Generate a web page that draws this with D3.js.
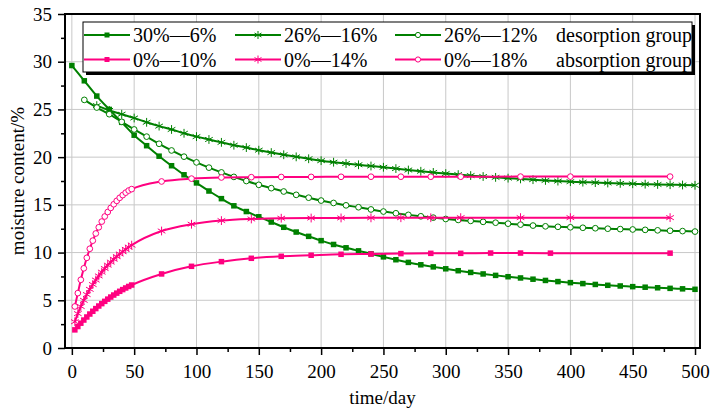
<!DOCTYPE html>
<html>
<head>
<meta charset="utf-8">
<script src="https://cdn.jsdelivr.net/npm/d3@7"></script>
<style>
  body { margin: 0; background: #fff; }
  svg text { font-family: "Liberation Serif", "Times New Roman", serif; }
</style>
</head>
<body>
<div id="chart"></div>
<script>
// desorption group: one reading every 10 days
const dayDes0 = [0,10,20,30,40,50,60,70,80,90,100,110,120,130,140,150,160,170,180,190,200,210,220,230,240,250,260,270,280,290,300,310,320,330,340,350,360,370,380,390,400,410,420,430,440,450,460,470,480,490,500];
const dayDes20 = dayDes0.slice(2);
const dayDes10 = dayDes0.slice(1);
const des30to6 = [29.6,28.0,26.4,25.0,23.65,22.3,21.2,20.1,19.1,18.15,17.3,16.45,15.65,14.9,14.3,13.75,13.2,12.65,12.15,11.7,11.25,10.85,10.5,10.18,9.87,9.55,9.25,8.97,8.72,8.5,8.3,8.1,7.92,7.76,7.61,7.47,7.34,7.21,7.08,6.96,6.85,6.75,6.66,6.57,6.5,6.43,6.37,6.31,6.25,6.2,6.15];
const des26to16 = [25.4,24.9,24.5,24.1,23.65,23.25,22.9,22.5,22.15,21.85,21.55,21.25,21.0,20.73,20.48,20.25,20.03,19.83,19.63,19.47,19.33,19.2,19.07,18.94,18.8,18.65,18.52,18.4,18.28,18.17,18.07,17.97,17.88,17.8,17.72,17.64,17.56,17.49,17.43,17.38,17.33,17.29,17.25,17.21,17.17,17.14,17.11,17.08,17.05];
const des26to12 = [26.0,25.2,24.5,23.7,22.9,22.15,21.4,20.7,20.05,19.45,18.9,18.4,17.93,17.5,17.1,16.75,16.4,16.05,15.75,15.45,15.2,14.95,14.75,14.52,14.3,14.12,13.95,13.8,13.66,13.52,13.42,13.32,13.22,13.13,13.03,12.93,12.83,12.75,12.7,12.65,12.6,12.55,12.5,12.46,12.42,12.38,12.33,12.29,12.25,12.2];

// absorption group
const dayAbs10 = [2.4,4.8,7.2,9.6,12,14.4,16.8,19.2,21.6,24,26.4,28.8,31.2,33.6,36,38.4,40.8,43.2,45.6,48,72,96,120,144,168,192,216,240,264,288,312,336,360,384,480];
const dayAbs14 = [2.4,4.8,7.2,9.6,12,14.4,16.8,19.2,21.6,24,26.4,28.8,31.2,33.6,36,38.4,40.8,43.2,45.6,48,72,96,120,144,168,192,216,240,264,288,312,360,400,480];
const abs0to10 = [1.9,2.25,2.6,2.93,3.25,3.56,3.85,4.13,4.4,4.65,4.89,5.12,5.34,5.55,5.75,5.94,6.12,6.29,6.45,6.6,7.76,8.56,9.05,9.4,9.61,9.72,9.82,9.85,9.89,9.92,9.92,9.95,9.95,9.94,9.94];
const abs0to14 = [2.75,3.6,4.35,5.0,5.6,6.15,6.65,7.12,7.55,7.95,8.33,8.68,9.0,9.3,9.58,9.85,10.1,10.34,10.57,10.78,12.26,12.97,13.35,13.52,13.6,13.62,13.63,13.64,13.65,13.65,13.66,13.66,13.66,13.66];
const abs0to18 = [4.35,5.75,7.15,8.35,9.45,10.4,11.25,12.0,12.65,13.25,13.78,14.25,14.68,15.06,15.42,15.74,16.02,16.28,16.5,16.65,17.45,17.75,17.87,17.9,17.92,17.93,17.94,17.95,17.95,17.95,17.95,17.96,17.96,17.96];

const xTicks = [0,50,100,150,200,250,300,350,400,450,500];
const yTicks = [0,5,10,15,20,25,30,35];

const green = '#008000';
const pink = '#ff0080';

const series = [
    {name: '30%\u20146%', days: dayDes0, vals: des30to6, color: green, mark: 'square'},
    {name: '26%\u201416%', days: dayDes20, vals: des26to16, color: green, mark: 'star'},
    {name: '26%\u201412%', days: dayDes10, vals: des26to12, color: green, mark: 'circle'},
    {name: '0%\u201410%', days: dayAbs10, vals: abs0to10, color: pink, mark: 'square'},
    {name: '0%\u201414%', days: dayAbs14, vals: abs0to14, color: pink, mark: 'star'},
    {name: '0%\u201418%', days: dayAbs14, vals: abs0to18, color: pink, mark: 'circle'}
];

const width = 717;
const height = 415;
const plot = {left: 65, right: 700, top: 14, bottom: 348};

const svg = d3.select('#chart').append('svg')
    .attr('width', width)
    .attr('height', height);

const x = d3.scaleLinear().domain([-5.5, 504]).range([plot.left, plot.right]);
const y = d3.scaleLinear().domain([0, 35]).range([plot.bottom, plot.top]);

// grid
svg.append('g')
    .selectAll('line')
    .data(xTicks)
    .join('line')
        .attr('x1', d => x(d)).attr('x2', d => x(d))
        .attr('y1', plot.top).attr('y2', plot.bottom)
        .attr('stroke', '#c8c8c8').attr('stroke-width', 1);
svg.append('g')
    .selectAll('line')
    .data(yTicks.slice(1, -1))
    .join('line')
        .attr('x1', plot.left).attr('x2', plot.right)
        .attr('y1', d => y(d)).attr('y2', d => y(d))
        .attr('stroke', '#c8c8c8').attr('stroke-width', 1);

// axes
svg.append('g')
    .attr('transform', `translate(0, ${plot.bottom})`)
    .call(d3.axisBottom(x).tickValues(xTicks).tickSize(7).tickPadding(10));
svg.append('g')
    .attr('transform', `translate(0, ${plot.bottom})`)
    .call(d3.axisBottom(x).tickValues(d3.range(25, 500, 50)).tickSize(4).tickFormat(''));
svg.append('g')
    .attr('transform', `translate(${plot.left}, 0)`)
    .call(d3.axisLeft(y).tickValues(yTicks).tickSize(7).tickPadding(6));
svg.append('g')
    .attr('transform', `translate(${plot.left}, 0)`)
    .call(d3.axisLeft(y).tickValues(d3.range(2.5, 35, 5)).tickSize(4).tickFormat(''));

svg.selectAll('.domain').remove();
svg.selectAll('.tick line').attr('stroke', '#000').attr('stroke-width', 1.5);
svg.selectAll('.tick text')
    .attr('font-family', '"Liberation Serif", serif')
    .attr('font-size', 19)
    .attr('fill', '#000');

// frame
svg.append('rect')
    .attr('x', plot.left).attr('y', plot.top)
    .attr('width', plot.right - plot.left)
    .attr('height', plot.bottom - plot.top)
    .attr('fill', 'none')
    .attr('stroke', '#000')
    .attr('stroke-width', 2);

// marker drawing
function drawMarker(g, mark, color, size) {
    if (mark === 'square') {
        g.append('rect')
            .attr('x', -size / 2).attr('y', -size / 2)
            .attr('width', size).attr('height', size)
            .attr('fill', color);
    } else if (mark === 'star') {
        const r = size * 0.8;
        const a = r * 0.866, b = r * 0.5;
        g.append('path')
            .attr('d', `M0,${-r}L0,${r}M${-a},${-b}L${a},${b}M${-a},${b}L${a},${-b}`)
            .attr('stroke', color)
            .attr('stroke-width', 1)
            .attr('fill', 'none');
    } else {
        g.append('circle')
            .attr('r', size * 0.52)
            .attr('fill', '#fff')
            .attr('stroke', color)
            .attr('stroke-width', 1);
    }
}

const line = d3.line()
    .x(d => x(d[0]))
    .y(d => y(d[1]))
    .curve(d3.curveMonotoneX);

series.forEach(s => {
    const pts = s.days.map((d, i) => [d, s.vals[i]]);
    const g = svg.append('g');
    g.append('path')
        .attr('d', line(pts))
        .attr('fill', 'none')
        .attr('stroke', s.color)
        .attr('stroke-width', 2);
    g.selectAll('.m')
        .data(pts)
        .join('g')
            .attr('transform', d => `translate(${x(d[0])}, ${y(d[1])})`)
            .each(function() { drawMarker(d3.select(this), s.mark, s.color, 5.5); });
});

// legend
const legend = {x: 83, y: 22, w: 609, h: 50};
svg.append('rect')
    .attr('x', legend.x + 3).attr('y', legend.y + 3)
    .attr('width', legend.w).attr('height', legend.h)
    .attr('fill', '#000');
svg.append('rect')
    .attr('x', legend.x).attr('y', legend.y)
    .attr('width', legend.w).attr('height', legend.h)
    .attr('fill', '#fff')
    .attr('stroke', '#000')
    .attr('stroke-width', 1);

const legendCols = [84, 235, 395];
const legendRows = [35, 59.5];
series.forEach((s, i) => {
    const cx = legendCols[i % 3];
    const cy = legendRows[Math.floor(i / 3)];
    const g = svg.append('g');
    g.append('line')
        .attr('x1', cx).attr('x2', cx + 46)
        .attr('y1', cy).attr('y2', cy)
        .attr('stroke', s.color).attr('stroke-width', 2);
    const mg = g.append('g').attr('transform', `translate(${cx + 23}, ${cy})`);
    drawMarker(mg, s.mark, s.color, 5);
    g.append('text')
        .attr('x', cx + 49)
        .attr('y', cy + 7)
        .attr('font-size', 20)
        .text(s.name);
});
['desorption group', 'absorption group'].forEach((t, i) => {
    svg.append('text')
        .attr('x', 556)
        .attr('y', legendRows[i] + 7)
        .attr('font-size', 20)
        .text(t);
});

// axis titles
svg.append('text')
    .attr('x', (plot.left + plot.right) / 2)
    .attr('y', 404)
    .attr('text-anchor', 'middle')
    .attr('font-size', 19)
    .text('time/day');
svg.append('text')
    .attr('transform', `translate(24, ${(plot.top + plot.bottom) / 2}) rotate(-90)`)
    .attr('text-anchor', 'middle')
    .attr('font-size', 19)
    .text('moisture content/%');
</script>
</body>
</html>
